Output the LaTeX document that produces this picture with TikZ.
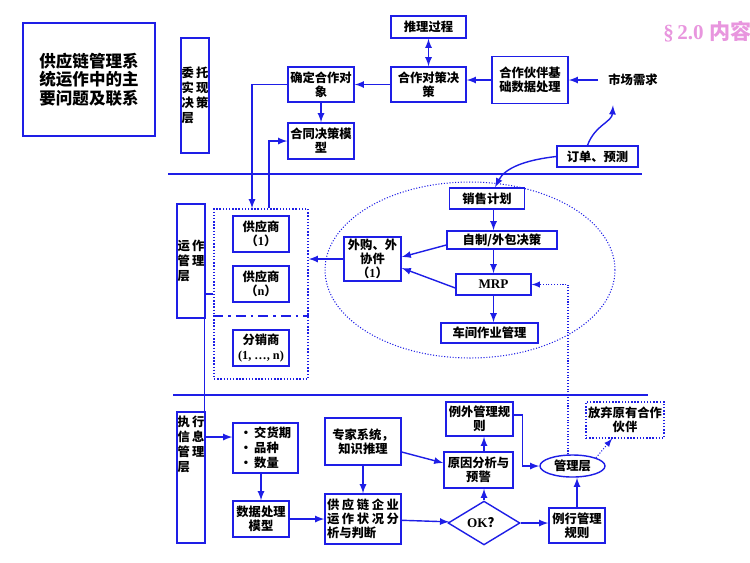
\documentclass[tikz,border=0pt]{standalone}
\usepackage{fontspec}
\setmainfont{Liberation Serif}
\newfontfamily\cjk{Noto Sans CJK SC}
\usetikzlibrary{shapes.geometric}

\definecolor{lineblue}{RGB}{30,30,230}
\definecolor{titlepink}{RGB}{232,150,222}

\tikzstyle{box}=[draw=lineblue,thick,fill=white,inner sep=0pt,align=center,font=\cjk\bfseries\fontsize{7}{8}\selectfont]
\tikzstyle{dotbox}=[box,densely dotted]
\tikzstyle{layer}=[draw=lineblue,thick,inner sep=0pt,align=left,minimum width=5.6mm,font=\cjk\bfseries\fontsize{7}{8.5}\selectfont]
\tikzstyle{flow}=[->,thick,draw=lineblue]
\tikzstyle{dotflow}=[->,semithick,densely dotted,draw=lineblue]
\tikzstyle{separator}=[draw=lineblue,thick]

\begin{document}
\begin{tikzpicture}[x=0.02cm,y=-0.02cm,>=latex]
\useasboundingbox (0,0) rectangle (750,562);
% title
\node[box,minimum width=26.4mm,minimum height=22.6mm,font=\cjk\bfseries\fontsize{9.4}{10.5}\selectfont] (title) at (89,79.5) {供应链管理系\\统运作中的主\\要问题及联系};
\node[anchor=west,inner sep=0pt,text=titlepink,font=\bfseries\fontsize{12}{14}\selectfont] (sect) at (663,32) {§\,2.0 {\cjk 内容}};
% layer separators
\draw[separator] (168,174) -- (642,174);
\draw[separator] (173,395) -- (648,395);

% decision layer
\node[layer,minimum height=23mm] (wtjc) at (195,95.5) {委\,托\\实\,现\\决\,策\\层};
\node[box,minimum width=15mm,minimum height=4.4mm] (tlgc) at (428.5,27) {推理过程};
\node[box,minimum width=15mm,minimum height=7mm] (hzdc) at (428.5,84.5) {合作对策决\\策};
\node[box,minimum width=13.2mm,minimum height=7mm] (qdhz) at (321,84.5) {确定合作对\\象};
\node[box,minimum width=13.2mm,minimum height=7.2mm] (htjc) at (321,141) {合同决策模\\型};
\node[box,minimum width=15.2mm,minimum height=9.4mm] (hbsj) at (530,80) {合作伙伴基\\础数据处理};
\node[inner sep=2mm,font=\cjk\bfseries\fontsize{7}{8}\selectfont] (scxq) at (633,80) {市场需求};
\node[box,minimum width=16.2mm,minimum height=4.2mm] (ddyc) at (597.5,156.5) {订单、预测};
\draw[flow,<->] (tlgc) -- (hzdc);
\draw[flow] (scxq.west) -- (hbsj.east);
\draw[flow] (hbsj.west) -- (hzdc.east |- hbsj.west);
\draw[flow] (hzdc) -- (qdhz);
\draw[flow] (qdhz) -- (htjc);
\draw[flow] ([xshift=-2mm]ddyc.north) .. controls (595,125) and (612,122) .. ([xshift=-4mm,yshift=-1.8mm]scxq.south);

% operation layer
\node[draw=lineblue,semithick,densely dotted,ellipse,minimum width=58mm,minimum height=35.2mm] (jhq) at (470,270) {};
\node[layer,minimum height=22.8mm] (yzgl) at (191,261) {运\,作\\管\,理\\层};
\node[box,minimum width=15mm,minimum height=4.2mm] (xsjh) at (487,198.5) {销售计划};
\node[box,minimum width=22mm,minimum height=3.6mm] (zzwb) at (502,240) {自制/外包决策};
\node[box,minimum width=15mm,minimum height=4.2mm,font=\bfseries\fontsize{7.5}{8}\selectfont] (mrp) at (493.5,284.5) {MRP};
\node[box,minimum width=19.4mm,minimum height=4mm] (cjzy) at (489.5,333) {车间作业管理};
\node[box,minimum width=11.4mm,minimum height=8.8mm] (wgwx) at (372.5,259) {外购、外\\协件\\（{\rmfamily 1}）};
% suppliers and distributors
\node[draw=lineblue,thick,densely dotted,minimum width=18.8mm,minimum height=34mm] (gyq) at (261,294) {};
\draw[lineblue,thick,dash pattern=on 2mm off 1mm on 0.5mm off 1mm] (gyq.west |- 0,316) -- (gyq.east |- 0,316);
\node[box,minimum width=11.2mm,minimum height=7.2mm] (gys1) at (261,234) {供应商\\（{\rmfamily 1}）};
\node[box,minimum width=11.2mm,minimum height=7.2mm] (gysn) at (261,284) {供应商\\（{\rmfamily n}）};
\node[box,minimum width=11.2mm,minimum height=7.2mm] (fxs) at (261,348) {分销商\\{\rmfamily (1, …, n)}};
\draw[flow] (ddyc.west) .. controls (525,160) and (505,168) .. ([xshift=1.6mm]xsjh.north);
\draw[flow] (xsjh.south -| mrp) -- (zzwb.north -| mrp);
\draw[flow] (zzwb.south -| mrp) -- (mrp);
\draw[flow] (mrp) -- (cjzy.north -| mrp);
\draw[flow] ([yshift=-1mm]zzwb.west) -- ([yshift=0.4mm]wgwx.east);
\draw[flow] ([yshift=-0.7mm]mrp.west) -- ([yshift=-1.8mm]wgwx.east);
\draw[flow] (wgwx.west) -- (gyq.east |- wgwx.west);
\draw[flow] (qdhz.west) -| ([xshift=-1.8mm]gyq.north);
\draw[flow] ([xshift=1.6mm]gyq.north) |- (htjc.west);

% execution layer
\node[layer,minimum height=26.2mm] (zxxx) at (191,477.5) {};
\node[layer,draw=none,anchor=north] (zxtext) at ([yshift=-0.8mm]zxxx.north) {执\,行\\信\,息\\管\,理\\层};
\node[box,align=left,minimum width=13mm,minimum height=10mm,font=\cjk\bfseries\fontsize{7}{8.5}\selectfont] (jhqi) at (265.5,448) {·\,交货期\\·\,品种\\·\,数量};
\node[box,minimum width=11.2mm,minimum height=7.2mm] (sjcl) at (261,519) {数据处理\\模型};
\node[box,align=left,minimum width=15.2mm,minimum height=10mm] (gylqy) at (363,519) {\makebox[14.4mm][s]{供\hfill 应\hfill 链\hfill 企\hfill 业}\\\makebox[14.4mm][s]{运\hfill 作\hfill 状\hfill 况\hfill 分}\\析与判断};
\node[box,minimum width=15.2mm,minimum height=9.4mm] (zjxt) at (363,441.5) {专家系统，\\知识推理};
\node[box,minimum width=13.8mm,minimum height=7.2mm] (yyfx) at (478.5,470) {原因分析与\\预警};
\node[box,minimum width=13.4mm,minimum height=6.8mm] (lwgl) at (479.5,419) {例外管理规\\则};
\node[draw=lineblue,thick,fill=white,diamond,inner sep=0pt,minimum width=14.4mm,minimum height=8.4mm,font=\bfseries\fontsize{7.5}{8}\selectfont] (ok) at (484,523) {OK{\cjk ？}};
\node[box,minimum width=11.2mm,minimum height=7mm] (lxgl) at (577,525.5) {例行管理\\规则};
\node[box,ellipse,minimum width=13mm,minimum height=4.4mm] (glc) at (572.5,466) {管理层};
\node[dotbox,minimum width=15.6mm,minimum height=7.2mm] (fqhz) at (625,420) {放弃原有合作\\伙伴};
\draw[flow] (gyq.west) -- ++(-9,0) |- ([yshift=2.2mm]jhqi.west);
\draw[flow] (jhqi.south -| sjcl) -- (sjcl);
\draw[flow] (sjcl) -- (gylqy);
\draw[flow] (zjxt) -- (gylqy);
\draw[flow] ([yshift=-2.1mm]zjxt.east) -- ([yshift=1.4mm]yyfx.west);
\draw[flow] (gylqy) -- (ok);
\draw[flow] (ok) -- (yyfx.south -| ok);
\draw[flow] (yyfx.north -| ok) -- (lwgl.south -| ok);
\draw[flow] (ok) -- (lxgl.west |- ok);
\draw[flow] (lxgl.north) -- (lxgl.north |- glc.south);
\draw[flow] ([yshift=0.8mm]lwgl.east) -- ++(9,0) |- (glc.west);
\draw[dotflow] (glc.north east) -- ([xshift=-2.6mm]fqhz.south);
\draw[dotflow] ([xshift=-0.9mm]glc.north) |- (mrp.east);
\end{tikzpicture}
\end{document}
